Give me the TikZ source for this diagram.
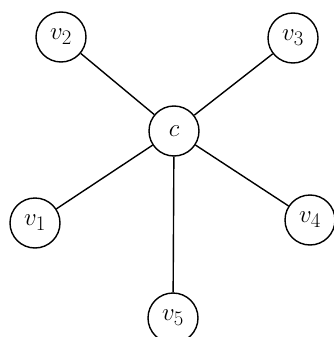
\documentclass[tikz,border=0pt]{standalone}
\begin{document}
\begin{tikzpicture}[x=1pt,y=-1pt,
  vertex/.style={circle,draw,line width=1.4pt,minimum size=50pt,inner sep=0pt,
    font=\fontsize{28}{32}\selectfont},
  edge/.style={line width=1.4pt}]
  % page frame
  \fill[white] (0,0) rectangle (334,337);
  \useasboundingbox (0,0) rectangle (334,337);
  % vertices
  \node[vertex] (c)  at (174,131) {$c$};
  \node[vertex] (v1) at (35,223)  {$v_1$};
  \node[vertex] (v2) at (61,37)   {$v_2$};
  \node[vertex] (v3) at (293,38)  {$v_3$};
  \node[vertex] (v4) at (310,220) {$v_4$};
  \node[vertex] (v5) at (173,318) {$v_5$};
  % star edges from the centre
  \foreach \v in {v1,v2,v3,v4,v5}
    \draw[edge] (c) -- (\v);
\end{tikzpicture}
\end{document}
